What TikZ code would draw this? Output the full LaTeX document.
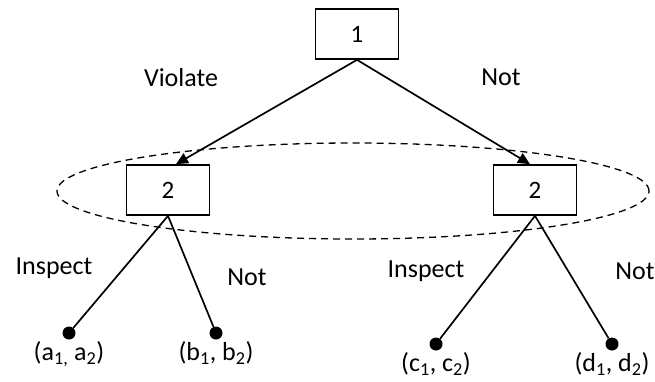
\documentclass[tikz,border=0pt]{standalone}
\usepackage{fontspec}
\setmainfont{Carlito}
\usetikzlibrary{shapes.geometric, arrows.meta, positioning}

\begin{document}
\begin{tikzpicture}[
    x=1pt, y=-1pt,
    box/.style={rectangle, draw=black, line width=1.7pt, fill=white,
                minimum width=83pt, minimum height=50pt, font=\fontsize{25}{30}\selectfont},
    leaf/.style={circle, fill=black, inner sep=0pt, minimum size=13pt},
    lbl/.style={font=\fontsize{26}{30}\selectfont, inner sep=1pt},
    arrow/.style={-{Triangle[length=12pt, width=11pt]}, line width=1.7pt},
    branch/.style={line width=1.7pt}
]
    \useasboundingbox (0,0) rectangle (655,381);

    % information set of player 2
    \node[ellipse, draw, dash pattern=on 7pt off 5pt, line width=1.3pt,
          minimum width=592pt, minimum height=96pt] (infoset) at (353,191) {};

    \node[box] (p1) at (357,34) {1};
    \node[box] (p2l) at (168,190) {2};
    \node[box] (p2r) at (535,190) {2};

    \node[leaf] (a) at (69,333) {};
    \node[leaf] (b) at (216,333) {};
    \node[leaf] (c) at (436,344) {};
    \node[leaf] (d) at (612,344) {};

    \node[lbl, below=1pt of a] (pa) {(a\textsubscript{1,} a\textsubscript{2})};
    \node[lbl, below=1pt of b] (pb) {(b\textsubscript{1}, b\textsubscript{2})};
    \node[lbl, below=1pt of c] (pc) {(c\textsubscript{1}, c\textsubscript{2})};
    \node[lbl, below=1pt of d] (pd) {(d\textsubscript{1}, d\textsubscript{2})};

    \draw[arrow] (p1.south) -- ([xshift=8pt]p2l.north);
    \draw[arrow] (p1.south) -- ([xshift=-5pt]p2r.north);
    \draw[branch] (p2l.south) -- (a);
    \draw[branch] (p2l.south) -- (b);
    \draw[branch] (p2r.south) -- (c);
    \draw[branch] (p2r.south) -- (d);

    \node[lbl] (violate) at (181,78) {Violate};
    \node[lbl] (not1) at (501,77) {Not};
    \node[lbl] (inspl) at (54,268) {Inspect};
    \node[lbl] (notl) at (247,277) {Not};
    \node[lbl] (inspr) at (426,271) {Inspect};
    \node[lbl] (notr) at (635,271) {Not};
\end{tikzpicture}
\end{document}
